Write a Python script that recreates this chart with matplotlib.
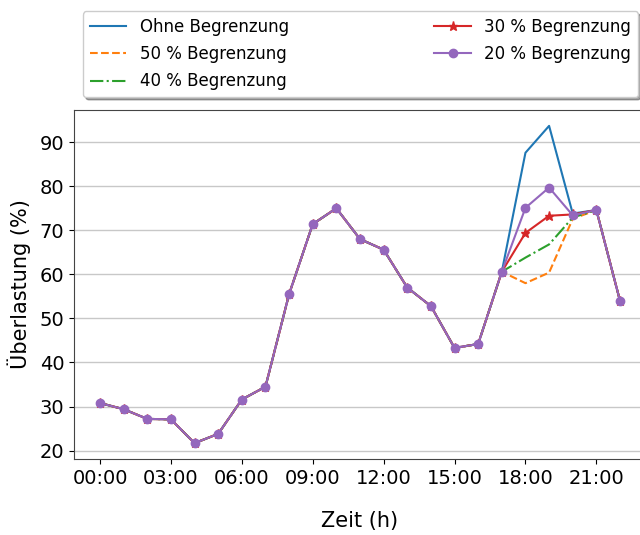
import matplotlib
matplotlib.use("Agg")
import matplotlib.pyplot as plt
import numpy as np

# Stunden 0..22
stunden = np.arange(23)
xtick_pos = [0, 3, 6, 9, 12, 15, 18, 21]
xtick_labels = ["00:00", "03:00", "06:00", "09:00", "12:00", "15:00", "18:00", "21:00"]

basis = [30.8, 29.4, 27.2, 27.1, 21.7, 23.8, 31.6, 34.5, 55.5, 71.4, 75.0,
         68.0, 65.6, 57.0, 52.8, 43.3, 44.2, 60.6]
ende = [74.6, 54.0]

ohne = basis + [87.6, 93.7, 73.8] + ende
b50 = basis + [58.0, 60.4, 72.6] + ende
b40 = basis + [63.8, 66.8, 72.9] + ende
b30 = basis + [69.4, 73.3, 73.6] + ende
b20 = basis + [75.1, 79.7, 73.4] + ende

fig = plt.figure(figsize=(6.4, 5.35), dpi=100)
ax = fig.add_axes([74/640, (535-459)/535, (646-74)/640, (459-110)/535])

l1, = ax.plot(stunden, ohne, color="C0", linestyle="-", label="Ohne Begrenzung")
l2, = ax.plot(stunden, b50, color="C1", linestyle="--", label="50 % Begrenzung")
l3, = ax.plot(stunden, b40, color="C2", linestyle="-.", label="40 % Begrenzung")
l4, = ax.plot(stunden, b30, color="C3", linestyle="-", marker="*", markersize=6.5, label="30 % Begrenzung")
l5, = ax.plot(stunden, b20, color="C4", linestyle="-", marker="o", markersize=6, label="20 % Begrenzung")

ax.set_xticks(xtick_pos)
ax.set_xticklabels(xtick_labels)
ax.tick_params(labelsize=14)
ax.yaxis.grid(True, color="#c8c8c8", linewidth=1)
ax.set_axisbelow(True)
for s in ax.spines.values():
    s.set_color("#444444")

ax.set_xlabel("Zeit (h)", fontsize=15, labelpad=17)
ax.set_ylabel("Überlastung (%)", fontsize=15, labelpad=6)

fig.legend(handles=[l1, l2, l3, l4, l5], ncol=2, mode="expand",
           bbox_to_anchor=(83/640, 1 - 97/535, (638-83)/640, (97-10)/535),
           loc="lower left", fontsize=12, shadow=True, fancybox=True,
           borderaxespad=0, handlelength=2.2, labelspacing=0.55)

fig.savefig("out.png", dpi=100)
